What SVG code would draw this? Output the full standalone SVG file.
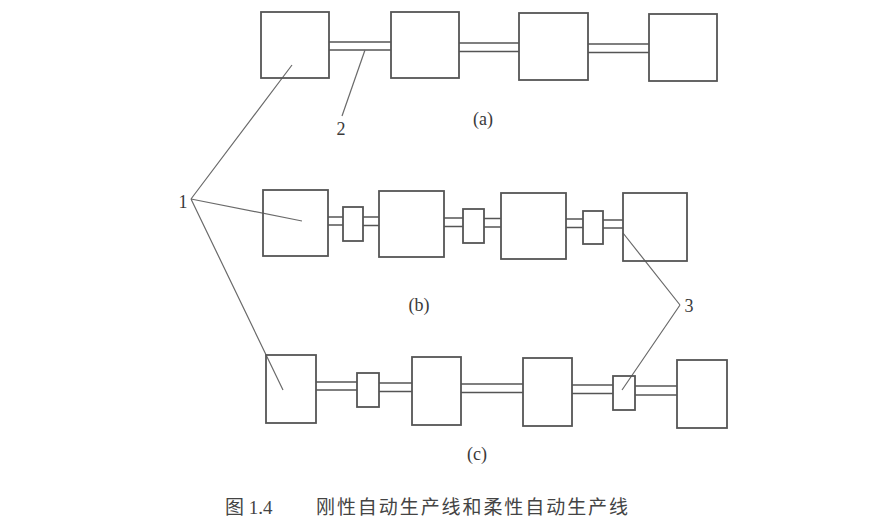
<svg xmlns="http://www.w3.org/2000/svg" width="880" height="520" viewBox="0 0 880 520">
<style>
.box{fill:none;stroke:#555;stroke-width:1.8}
.shaft{stroke:#555;stroke-width:1.6;fill:none}
.lead{stroke:#6a6a6a;stroke-width:1.2;fill:none}
.lbl{font-family:"Liberation Serif","Times New Roman",serif;font-size:18px;fill:#3a3a3a}
.cap{font-family:"Liberation Serif","Noto Sans CJK SC",serif;font-size:19px;fill:#444}
</style>
<rect width="880" height="520" fill="#fff"/>
<g id="connectors">
  <path class="shaft" d="M329 42H391M329 50H391"/>
  <path class="shaft" d="M459 43H519M459 51.5H519"/>
  <path class="shaft" d="M588 44H649M588 52.5H649"/>
  <path class="shaft" d="M328 217H343M328 225H343"/>
  <path class="shaft" d="M363 217H379M363 225.5H379"/>
  <path class="shaft" d="M444 218H463M444 226.5H463"/>
  <path class="shaft" d="M484 218.5H501M484 227H501"/>
  <path class="shaft" d="M566 219H583M566 227.5H583"/>
  <path class="shaft" d="M603 220H623M603 228H623"/>
  <path class="shaft" d="M316 382H357M316 390H357"/>
  <path class="shaft" d="M379 383H412M379 391.5H412"/>
  <path class="shaft" d="M461 384H523M461 392.5H523"/>
  <path class="shaft" d="M572 385H613M572 393.5H613"/>
  <path class="shaft" d="M635 386H677M635 395H677"/>
  <path class="lead" d="M191 199L292 65M191 199L302 221M191 199L283 390"/>
  <path class="lead" d="M365 50L342 116"/>
  <path class="lead" d="M680 305L623 233M680 305L622 390"/>
</g>
<g id="a1"><rect class="box" x="261" y="12" width="68" height="66"/></g>
<g id="a2"><rect class="box" x="391" y="12" width="68" height="66"/></g>
<g id="a3"><rect class="box" x="519" y="13" width="69" height="67"/></g>
<g id="a4"><rect class="box" x="649" y="14" width="68" height="67"/></g>
<g id="b1"><rect class="box" x="263" y="190" width="65" height="66"/></g>
<g id="bs1"><rect class="box" x="343" y="207" width="20" height="34"/></g>
<g id="b2"><rect class="box" x="379" y="191" width="65" height="66"/></g>
<g id="bs2"><rect class="box" x="463" y="209" width="21" height="34"/></g>
<g id="b3"><rect class="box" x="501" y="193" width="65" height="66"/></g>
<g id="bs3"><rect class="box" x="583" y="211" width="20" height="33"/></g>
<g id="b4"><rect class="box" x="623" y="193" width="64" height="68"/></g>
<g id="c1"><rect class="box" x="266" y="355" width="50" height="68"/></g>
<g id="cs1"><rect class="box" x="357" y="373" width="22" height="34"/></g>
<g id="c2"><rect class="box" x="412" y="357" width="49" height="68"/></g>
<g id="c3"><rect class="box" x="523" y="358" width="49" height="68"/></g>
<g id="cs2"><rect class="box" x="613" y="376" width="22" height="34"/></g>
<g id="c4"><rect class="box" x="677" y="360" width="50" height="68"/></g>
<g id="labels">
  <text class="lbl" x="183" y="208" text-anchor="middle">1</text>
  <text class="lbl" x="341" y="135" text-anchor="middle">2</text>
  <text class="lbl" x="689" y="312" text-anchor="middle">3</text>
  <text class="lbl" x="483" y="125" text-anchor="middle">(a)</text>
  <text class="lbl" x="419" y="311" text-anchor="middle">(b)</text>
  <text class="lbl" x="477" y="460" text-anchor="middle">(c)</text>
  <text class="cap" x="225" y="514">图 1.4</text>
  <text class="cap" x="316" y="514" textLength="312">刚性自动生产线和柔性自动生产线</text>
</g>
</svg>
